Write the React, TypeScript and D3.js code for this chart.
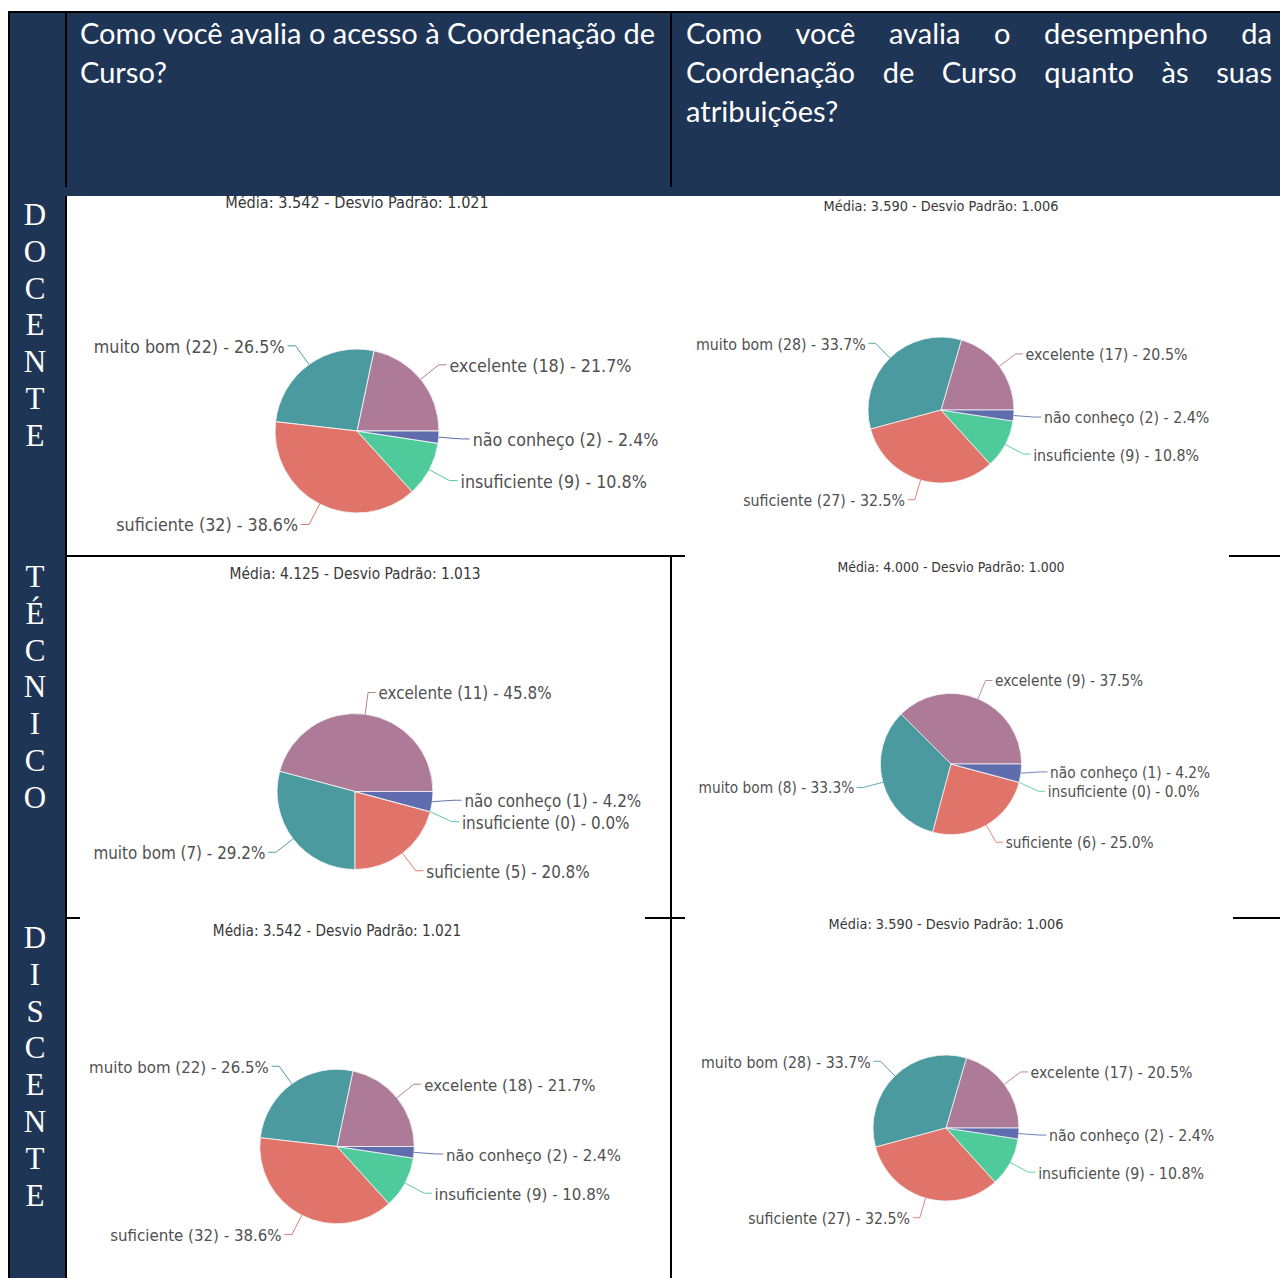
import React from "react";
import * as d3 from "d3";

// ---------- data ----------
const categories = ["excelente", "muito bom", "suficiente", "insuficiente", "não conheço"];
const sliceColors = ["#AD7A98", "#4A9AA0", "#E0746A", "#4FCB9B", "#5F6DAF"];

const docenteAcesso = [18, 22, 32, 9, 2];
const docenteDesempenho = [17, 28, 27, 9, 2];
const tecnicoAcesso = [11, 7, 5, 0, 1];
const tecnicoDesempenho = [9, 8, 6, 0, 1];
const discenteAcesso = [18, 22, 32, 9, 2];
const discenteDesempenho = [17, 28, 27, 9, 2];

const statTitles = [
  "Média: 3.542 - Desvio Padrão: 1.021",
  "Média: 3.590 - Desvio Padrão: 1.006",
  "Média: 4.125 - Desvio Padrão: 1.013",
  "Média: 4.000 - Desvio Padrão: 1.000",
  "Média: 3.542 - Desvio Padrão: 1.021",
  "Média: 3.590 - Desvio Padrão: 1.006",
];

const rowLabels = ["DOCENTE", "TÉCNICO", "DISCENTE"];
const questionLeft = ["Como você avalia o acesso à Coordenação de", "Curso?"];
const questionRight = [
  ["Como", "você", "avalia", "o", "desempenho", "da"],
  ["Coordenação", "de", "Curso", "quanto", "às", "suas"],
  ["atribuições?"],
];

const panelValues = [docenteAcesso, docenteDesempenho, tecnicoAcesso, tecnicoDesempenho, discenteAcesso, discenteDesempenho];

// ---------- layout ----------
const panelLayout = [
  { cx: 357, cy: 431, s: 1.0 },
  { cx: 941, cy: 410, s: 0.89 },
  { cx: 355, cy: 791.5, s: 0.951 },
  { cx: 951, cy: 764, s: 0.861 },
  { cx: 337, cy: 1146.5, s: 0.942 },
  { cx: 946, cy: 1128, s: 0.89 },
];
const rowLetterStart = [225, 587, 948];
const NAVY = "#1F3556";
const LABEL_FAMILY = "DejaVu Sans Condensed";
const LABEL_FONT = "'DejaVu Sans Condensed', 'DejaVu Sans', sans-serif";

let measureCtx: CanvasRenderingContext2D | null = null;
function textWidth(t: string, font: string) {
  if (!measureCtx) measureCtx = document.createElement("canvas").getContext("2d");
  if (!measureCtx) return t.length * 12;
  measureCtx.font = font;
  return measureCtx.measureText(t).width;
}
function fitSize(sample: string, target: string, guess: number, family: string) {
  const w = textWidth(sample, `${guess}px '${family}'`);
  const t = textWidth(target, `${guess}px '${family}'`);
  return w > 0 && t > 0 ? guess : guess;
}

// base (scale 1) widths measured on the reference
const TITLE_W = 264;
const LABEL_W = 191;
const LABEL_SAMPLE = "muito bom (22) - 26.5%";

type Lab = { i: number; p1: [number, number]; p2x: number; y: number; right: boolean };

function PiePanel({
  values,
  title,
  cx,
  cy,
  s,
  titleSize,
  labelSize,
}: {
  values: number[];
  title: string;
  cx: number;
  cy: number;
  s: number;
  titleSize: number;
  labelSize: number;
}) {
  const R = 82;
  const LR = R + 23;
  const GAP = 22.5;
  const total = d3.sum(values);
  const arcs = d3
    .pie<number>()
    .sort(null)
    .value((d) => d)
    .startAngle(Math.PI / 2)
    .endAngle(Math.PI / 2 - 2 * Math.PI)(values);
  const arcGen = d3.arc<d3.PieArcDatum<number>>().innerRadius(0).outerRadius(R);

  const labels: Lab[] = arcs.map((a, i) => {
    const m = (a.startAngle + a.endAngle) / 2;
    const sx = Math.sin(m);
    const sy = -Math.cos(m);
    return { i, p1: [sx * R, sy * R], p2x: sx * LR, y: sy * LR, right: sx >= -1e-6 };
  });
  [true, false].forEach((side) => {
    const g = labels.filter((l) => l.right === side).sort((a, b) => a.y - b.y);
    for (let it = 0; it < 20; it++) {
      for (let k = 1; k < g.length; k++) {
        const d = g[k].y - g[k - 1].y;
        if (d < GAP) {
          const o = (GAP - d) / 2;
          g[k - 1].y -= o;
          g[k].y += o;
        }
      }
    }
  });

  return (
    <g transform={`translate(${cx},${cy}) scale(${s})`}>
      <text x={0} y={-229} textAnchor="middle" dominantBaseline="central" fontFamily={LABEL_FONT} fontSize={titleSize} fill="#383838">
        {title}
      </text>
      {arcs.map((a, i) => (
        <path key={i} d={arcGen(a) || ""} fill={sliceColors[i]} stroke="#f4f4f4" strokeWidth={0.9} />
      ))}
      {labels.map((l) => {
        const dir = l.right ? 1 : -1;
        const p3x = l.p2x + dir * 8;
        const v = values[l.i];
        const pct = ((v / total) * 100).toFixed(1);
        return (
          <g key={l.i}>
            <polyline
              points={`${l.p1[0]},${l.p1[1]} ${l.p2x},${l.y} ${p3x},${l.y}`}
              fill="none"
              stroke={sliceColors[l.i]}
              strokeWidth={1}
            />
            <text
              x={p3x + dir * 3}
              y={l.y + 1}
              textAnchor={l.right ? "start" : "end"}
              dominantBaseline="central"
              fontFamily={LABEL_FONT}
              fontSize={labelSize}
              fill="#505050"
            >
              {`${categories[l.i]} (${v}) - ${pct}%`}
            </text>
          </g>
        );
      })}
    </g>
  );
}

export default function App() {
  const headFamily = "Lato";
  const base = textWidth(questionLeft[0], `27px ${headFamily}`);
  const headSize = base > 0 ? (27 * 576) / base : 27;
  const headFont = `${headSize}px ${headFamily}`;
  const rightX0 = 686;
  const rightX1 = 1272;
  const headBaselines = [44, 83, 122];

  const tw = textWidth(statTitles[0], `16px '${LABEL_FAMILY}'`);
  const titleSize = tw > 0 ? Math.min(18, Math.max(12, (16 * TITLE_W) / tw)) : 15;
  const lw = textWidth(LABEL_SAMPLE, `16px '${LABEL_FAMILY}'`);
  const labelSize = lw > 0 ? Math.min(20, Math.max(13, (16 * LABEL_W) / lw)) : 17;
  void fitSize;

  return (
    <svg width={1280} height={1278} style={{ position: "absolute", left: 0, top: 0, background: "#fff" }}>
      <rect x={0} y={0} width={1280} height={1278} fill="#fff" />
      {panelValues.map((vals, i) => (
        <PiePanel
          key={i}
          values={vals}
          title={statTitles[i]}
          cx={panelLayout[i].cx}
          cy={panelLayout[i].cy}
          s={panelLayout[i].s}
          titleSize={titleSize}
          labelSize={labelSize}
        />
      ))}

      {/* header */}
      <rect x={8} y={12} width={1272} height={184} fill={NAVY} />
      {/* left column */}
      <rect x={8} y={12} width={58} height={1266} fill={NAVY} />

      {/* borders */}
      <g stroke="#000" strokeWidth={2} fill="none">
        <line x1={8} y1={12} x2={1280} y2={12} />
        <line x1={9} y1={12} x2={9} y2={1278} />
        <line x1={66} y1={12} x2={66} y2={187} />
        <line x1={66} y1={196} x2={66} y2={1278} />
        <line x1={671} y1={12} x2={671} y2={187} />
        <line x1={671} y1={556} x2={671} y2={1278} />
        <line x1={66} y1={556} x2={685} y2={556} />
        <line x1={1229} y1={556} x2={1280} y2={556} />
        <line x1={66} y1={918} x2={80} y2={918} />
        <line x1={645} y1={918} x2={685} y2={918} />
        <line x1={1233} y1={918} x2={1280} y2={918} />
      </g>

      {/* header questions */}
      <g fill="#fff" fontFamily={headFamily} fontSize={headSize}>
        {questionLeft.map((line, i) => (
          <text key={i} x={80} y={headBaselines[i]}>
            {line}
          </text>
        ))}
        {questionRight.map((words, li) => {
          const widths = words.map((w) => textWidth(w, headFont));
          const sumW = d3.sum(widths);
          const justify = li < questionRight.length - 1 && words.length > 1;
          const space = justify ? (rightX1 - rightX0 - sumW) / (words.length - 1) : textWidth(" ", headFont);
          let x = rightX0;
          return words.map((w, wi) => {
            const el = (
              <text key={`${li}-${wi}`} x={x} y={headBaselines[li]}>
                {w}
              </text>
            );
            x += widths[wi] + space;
            return el;
          });
        })}
      </g>

      {/* row labels */}
      <g fill="#fff" fontFamily="'Liberation Serif', 'Times New Roman', serif" fontSize={31} textAnchor="middle">
        {rowLabels.map((word, ri) =>
          Array.from(word).map((ch, ci) => (
            <text key={`${ri}-${ci}`} x={35} y={rowLetterStart[ri] + ci * 36.8}>
              {ch}
            </text>
          ))
        )}
      </g>
    </svg>
  );
}
